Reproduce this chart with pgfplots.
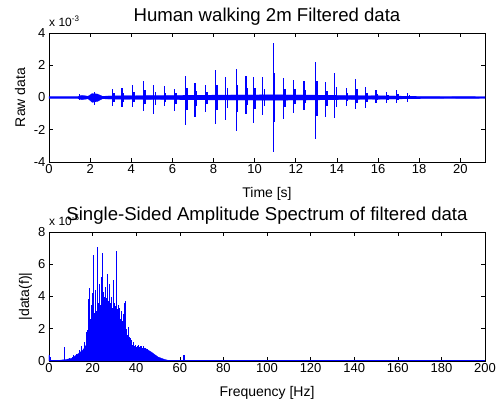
\documentclass[border=0pt]{standalone}
\usepackage{pgfplots}
\pgfplotsset{compat=1.18}
\usepackage{pgfplotstable}
\usepackage{fontspec}
\setmainfont{Liberation Sans}
\newcommand{\tickfont}{\fontsize{13}{14}\selectfont}
\newcommand{\labfont}{\fontsize{14}{16}\selectfont}
\newcommand{\titfont}{\fontsize{18.6}{20}\selectfont}
\newcommand{\expfont}{\fontsize{12}{13}\selectfont}

\pgfplotstableread{
t up dn t2 up2 dn2
1.5 0.2 -0.15 1.57 0.12 -0.1
2.2 0.35 -0.45 2.27 0.2 -0.25
3.1 0.55 -0.55 3.17 0.25 -0.25
3.55 0.6 -0.6 3.62 0.27 -0.27
4.05 0.75 -0.6 4.12 0.33 -0.27
4.6 1.05 -0.85 4.67 0.45 -0.38
5.1 0.75 -1.0 5.17 0.33 -0.45
5.6 0.7 -0.55 5.67 0.3 -0.25
6.1 0.55 -0.85 6.17 0.25 -0.38
6.65 1.35 -1.7 6.72 0.6 -0.75
7.1 0.9 -1.2 7.17 0.4 -0.55
7.6 0.8 -0.9 7.67 0.35 -0.4
8.1 1.7 -1.65 8.17 0.75 -0.75
8.6 1.3 -1.4 8.67 0.58 -0.62
9.1 1.75 -2.05 9.17 0.78 -0.9
9.58 1.35 -1.0 9.65 0.6 -0.45
9.95 1.3 -1.55 10.02 0.58 -0.7
10.4 1.25 -1.1 10.47 0.55 -0.5
10.9 3.35 -3.4 10.97 1.5 -1.5
11.4 1.2 -1.35 11.47 0.55 -0.6
11.9 1.1 -0.95 11.97 0.5 -0.42
12.4 1.0 -0.8 12.47 0.45 -0.36
12.95 2.2 -2.6 13.02 1.0 -1.15
13.45 0.95 -1.2 13.52 0.42 -0.55
13.9 1.5 -1.3 13.97 0.68 -0.58
14.45 0.6 -0.5 14.52 0.27 -0.22
14.9 1.15 -0.7 14.97 0.5 -0.32
15.4 0.65 -0.65 15.47 0.3 -0.3
15.9 0.45 -0.35 15.97 0.2 -0.16
16.4 0.35 -0.35 16.47 0.16 -0.16
16.9 0.45 -0.35 16.97 0.2 -0.16
17.45 0.3 -0.25 17.52 0.14 -0.12
}\spikes

\pgfplotstableread{
f h
0.2 0.4
0.6 0.25
7.0 0.85
9.5 0.2
10.5 0.25
11.3 0.35
12.0 0.3
12.7 0.45
13.3 0.4
13.9 0.7
14.5 0.55
15.0 0.9
15.6 0.75
16.1 1.2
16.6 0.9
17.0 1.8
17.4 1.3
17.8 1.9
18.2 3.85
18.6 4.5
19.0 2.6
19.4 3.5
19.8 2.4
20.1 4.2
20.4 6.6
20.8 3.0
21.2 4.4
21.6 3.1
22.0 3.9
22.3 7.05
22.7 3.6
23.1 4.8
23.5 3.5
23.9 5.2
24.3 6.7
24.7 3.9
25.1 4.3
25.5 4.0
25.9 4.6
26.3 3.9
26.7 5.4
27.1 3.7
27.5 4.2
27.9 4.8
28.3 3.6
28.7 4.0
29.1 3.3
29.5 5.0
29.9 3.6
30.3 3.4
30.8 6.8
31.2 3.2
31.6 3.5
32.0 3.0
32.4 3.3
32.8 2.6
33.2 3.1
33.6 2.5
34.0 2.9
34.4 3.6
34.8 3.7
35.2 2.3
35.6 2.0
36.0 1.6
36.4 2.1
36.8 1.5
37.2 1.4
37.6 1.3
38.0 1.1
38.4 1.0
38.8 1.2
39.2 0.9
39.6 1.0
40.0 0.85
40.5 0.95
41.0 1.0
41.5 0.85
42.0 0.9
42.5 0.95
43.0 0.8
43.5 0.9
44.0 0.8
44.5 0.7
45.0 0.75
45.6 0.6
46.2 0.55
46.8 0.5
47.4 0.45
48.0 0.4
48.6 0.35
49.3 0.3
50.0 0.25
50.8 0.2
51.6 0.15
52.5 0.12
53.5 0.08
54.5 0.05
61.8 0.35
62.3 0.4
}\spec

\pgfplotsset{
  mstyle/.style={
    scale only axis, width=436pt, height=129pt,
    anchor=south west,
    tick align=inside, major tick length=4pt,
    tick style={black, line width=0.6pt},
    axis line style={line width=0.7pt},
    ticklabel style={font=\tickfont},
    /pgf/number format/assume math mode=true,
    xticklabel style={yshift=1pt},
    yticklabel style={xshift=0pt},
  }
}

\begin{document}
\begin{tikzpicture}
\useasboundingbox (0,0) rectangle (501pt,-405pt);
\begin{axis}[mstyle, name=top, at={(49pt,-162pt)},
  xmin=0, xmax=21.2, ymin=-4, ymax=4,
  xtick={0,2,...,20}, ytick={-4,-2,0,2,4}]
\addplot[blue, fill=blue, line width=0.2pt] coordinates {
(0,0.07)(1.4,0.07)(1.6,0.14)(1.9,0.08)(2.1,0.25)(2.35,0.22)(2.6,0.08)(3,0.1)(5,0.13)(8,0.15)(11,0.17)(14,0.14)(16,0.11)(17.5,0.08)(21.2,0.06)
(21.2,-0.06)(17.5,-0.08)(16,-0.11)(14,-0.14)(11,-0.17)(8,-0.15)(5,-0.13)(3,-0.1)(2.6,-0.08)(2.35,-0.25)(2.1,-0.3)(1.9,-0.08)(1.6,-0.14)(1.4,-0.07)(0,-0.07)};
\addplot[ycomb, blue, line width=1.2pt, mark=none] table[x=t, y=up] {\spikes};
\addplot[ycomb, blue, line width=1.2pt, mark=none] table[x=t, y=dn] {\spikes};
\addplot[ycomb, blue, line width=1.6pt, mark=none] table[x=t2, y=up2] {\spikes};
\addplot[ycomb, blue, line width=1.6pt, mark=none] table[x=t2, y=dn2] {\spikes};
\end{axis}
\node[font=\titfont, anchor=base] at ([yshift=12pt]top.north) {Human walking 2m Filtered data};
\node[font=\labfont, anchor=base] at ([yshift=-35pt]top.south) {Time [s]};
\node[font=\labfont, anchor=base, rotate=90] at ([xshift=-24pt]top.west) {Raw data};
\node[font=\expfont, anchor=base west, inner sep=0pt] at ([yshift=7pt]top.north west) {x 10\textsuperscript{-3}};

\begin{axis}[mstyle, name=bot, at={(49pt,-361pt)},
  xmin=0, xmax=200, ymin=0, ymax=8,
  xtick={0,20,...,200}, ytick={0,2,4,6,8}]
\addplot[blue, fill=blue, line width=0.3pt] coordinates {
(0,0)(0,0.35)(0.8,0.05)(5,0.05)(8,0.1)(10.4,0.17)(13.4,0.45)(15.7,0.7)(18,1.2)(19.5,2.0)(22.6,2.4)(24.9,3.0)(25.8,3.4)(27.2,3.0)(28.7,2.8)(30.2,2.5)(31.8,2.1)(34,1.6)(36.3,1.15)(37.9,0.9)(40.9,0.75)(44,0.8)(47,0.55)(50,0.25)(53,0.1)(55.4,0.02)(55.4,0)};
\addplot[ycomb, blue, line width=0.7pt, mark=none] table[x=f, y=h] {\spec};
\addplot[blue, line width=1.2pt, mark=none] coordinates {(0,0.03)(200,0.03)};
\end{axis}
\node[font=\expfont, anchor=base west, inner sep=0pt] at ([yshift=7pt]bot.north west) {x 10\textsuperscript{-5}};
\node[font=\titfont, anchor=base] at ([yshift=12pt]bot.north) {Single-Sided Amplitude Spectrum of filtered data};
\node[font=\labfont, anchor=base] at ([yshift=-35pt]bot.south) {Frequency [Hz]};
\node[font=\labfont, anchor=base, rotate=90] at ([xshift=-20pt]bot.west) {|data(f)|};
\end{tikzpicture}
\end{document}
